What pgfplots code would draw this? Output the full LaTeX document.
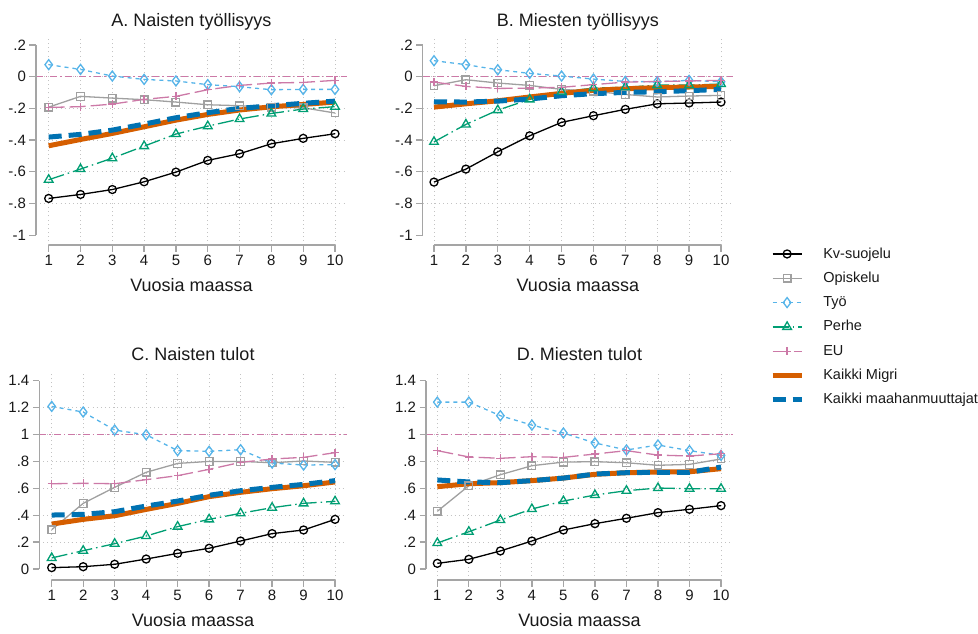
\documentclass[border=0pt]{standalone}
\usepackage{pgfplots}
\pgfplotsset{compat=1.18}
\usepackage{fontspec}
\setmainfont{Liberation Sans}
\definecolor{cKv}{RGB}{0,0,0}
\definecolor{cOp}{RGB}{160,160,160}
\definecolor{cTy}{RGB}{86,180,233}
\definecolor{cPe}{RGB}{0,158,115}
\definecolor{cEU}{RGB}{204,121,167}
\definecolor{cMi}{RGB}{213,94,0}
\definecolor{cAl}{RGB}{0,114,178}
\definecolor{axgray}{RGB}{165,165,165}
\definecolor{gridgray}{RGB}{195,195,195}
\definecolor{txt}{RGB}{25,25,25}
\pgfplotsset{
  sKv/.style={color=cKv, line width=1.3pt, mark=o, mark size=4pt, mark options={solid}},
  sOp/.style={color=cOp, line width=1.3pt, mark=square, mark size=3.8pt, mark options={solid}},
  sTy/.style={color=cTy, line width=1.3pt, dash pattern=on 4pt off 4pt, mark=diamond, mark size=5pt, mark options={solid}},
  sPe/.style={color=cPe, line width=1.3pt, dash pattern=on 16pt off 4pt on 1.5pt off 4pt, mark=triangle, mark size=5pt, mark options={solid}},
  sEU/.style={color=cEU, line width=1.3pt, dash pattern=on 16pt off 5pt, mark=+, mark size=4pt, mark options={solid}},
  sMi/.style={color=cMi, line width=5pt, no markers},
  sAl/.style={color=cAl, line width=5pt, dash pattern=on 13pt off 7pt, no markers},
  sRef/.style={color=cEU, line width=1.2pt, dash pattern=on 7pt off 3pt on 1.5pt off 3pt, no markers},
  base/.style={
    scale only axis, clip=false,
    axis lines*=left, axis line style={draw=none},
    tick align=outside, major tick length=6.5pt,
    tick style={axgray, line width=1.3pt},
    xtick={1,...,10},
    /pgf/number format/assume math mode=true,
    xmajorgrids,
    grid style={gridgray, line width=0.9pt, dash pattern=on 0.9pt off 3.2pt},
    tick label style={font=\fontsize{15}{15}\selectfont, text=txt},
    title style={font=\fontsize{18}{18}\selectfont, text=txt, anchor=base, at={(axis description cs:0.5,1)}, yshift=5pt},
    xlabel style={font=\fontsize{18}{18}\selectfont, text=txt, anchor=base, at={(axis description cs:0.5,0)}, yshift=-46.7pt},
    xlabel={Vuosia maassa},
    extra y tick labels={},
    extra y tick style={ymajorgrids=true, major tick length=0pt},
  },
  emp/.style={base, ymin=-1.062, ymax=0.2505,
    ytick={-1,-0.8,-0.6,-0.4,-0.2,0,0.2},
    yticklabels={-1,-.8,-.6,-.4,-.2,0,.2},
    extra y ticks={-0.8,-0.6,-0.4,-0.2,0}},
  inc/.style={base, ymin=-0.082, ymax=1.467,
    ytick={0,0.2,0.4,0.6,0.8,1,1.2,1.4},
    yticklabels={0,.2,.4,.6,.8,1,1.2,1.4},
    extra y ticks={0.2,0.4,0.6,0.8,1,1.2}},
}
\begin{document}
\begin{tikzpicture}
\useasboundingbox (0,0) rectangle (978pt,-633pt);
% ---------------- A
\begin{axis}[emp, at={(36pt,-245pt)}, anchor=south west, width=311pt, height=208pt,
  xmin=0.601, xmax=10.377, title={A. Naisten työllisyys}]
\addplot[sRef] coordinates {(0.601,0) (10.377,0)};
\addplot[sKv] coordinates {(1,-0.768)(2,-0.743)(3,-0.712)(4,-0.663)(5,-0.602)(6,-0.528)(7,-0.486)(8,-0.423)(9,-0.389)(10,-0.360)};
\addplot[sOp] coordinates {(1,-0.192)(2,-0.124)(3,-0.135)(4,-0.145)(5,-0.160)(6,-0.177)(7,-0.183)(8,-0.192)(9,-0.196)(10,-0.229)};
\addplot[sTy] coordinates {(1,0.076)(2,0.046)(3,0.004)(4,-0.017)(5,-0.027)(6,-0.050)(7,-0.063)(8,-0.082)(9,-0.080)(10,-0.080)};
\addplot[sPe] coordinates {(1,-0.650)(2,-0.583)(3,-0.514)(4,-0.438)(5,-0.362)(6,-0.312)(7,-0.267)(8,-0.232)(9,-0.204)(10,-0.189)};
\addplot[sEU] coordinates {(1,-0.194)(2,-0.189)(3,-0.173)(4,-0.143)(5,-0.124)(6,-0.082)(7,-0.055)(8,-0.040)(9,-0.036)(10,-0.023)};
\addplot[sMi] coordinates {(1,-0.436)(2,-0.396)(3,-0.358)(4,-0.316)(5,-0.274)(6,-0.238)(7,-0.210)(8,-0.190)(9,-0.175)(10,-0.160)};
\addplot[sAl] coordinates {(1,-0.381)(2,-0.364)(3,-0.337)(4,-0.299)(5,-0.259)(6,-0.227)(7,-0.200)(8,-0.183)(9,-0.168)(10,-0.154)};
\draw[axgray, line width=1.3pt] (axis cs:1,-1.062) -- (axis cs:10,-1.062);
\draw[axgray, line width=1.3pt] (axis cs:0.601,-1) -- (axis cs:0.601,0.2);
\end{axis}
% ---------------- B
\begin{axis}[emp, at={(422.7pt,-245pt)}, anchor=south west, width=310.3pt, height=208pt,
  xmin=0.646, xmax=10.376, title={B. Miesten työllisyys}]
\addplot[sRef] coordinates {(0.646,0) (10.376,0)};
\addplot[sKv] coordinates {(1,-0.665)(2,-0.583)(3,-0.474)(4,-0.373)(5,-0.288)(6,-0.246)(7,-0.206)(8,-0.171)(9,-0.166)(10,-0.160)};
\addplot[sOp] coordinates {(1,-0.057)(2,-0.019)(3,-0.040)(4,-0.055)(5,-0.080)(6,-0.092)(7,-0.112)(8,-0.128)(9,-0.122)(10,-0.118)};
\addplot[sTy] coordinates {(1,0.101)(2,0.076)(3,0.044)(4,0.021)(5,0.004)(6,-0.015)(7,-0.030)(8,-0.032)(9,-0.023)(10,-0.032)};
\addplot[sPe] coordinates {(1,-0.411)(2,-0.301)(3,-0.211)(4,-0.143)(5,-0.095)(6,-0.072)(7,-0.067)(8,-0.053)(9,-0.053)(10,-0.046)};
\addplot[sEU] coordinates {(1,-0.034)(2,-0.061)(3,-0.074)(4,-0.072)(5,-0.067)(6,-0.050)(7,-0.034)(8,-0.030)(9,-0.027)(10,-0.023)};
\addplot[sMi] coordinates {(1,-0.192)(2,-0.171)(3,-0.152)(4,-0.128)(5,-0.105)(6,-0.086)(7,-0.076)(8,-0.069)(9,-0.065)(10,-0.061)};
\addplot[sAl] coordinates {(1,-0.158)(2,-0.160)(3,-0.154)(4,-0.141)(5,-0.120)(6,-0.107)(7,-0.099)(8,-0.095)(9,-0.088)(10,-0.080)};
\draw[axgray, line width=1.3pt] (axis cs:1,-1.062) -- (axis cs:10,-1.062);
\draw[axgray, line width=1.3pt] (axis cs:0.646,-1) -- (axis cs:0.646,0.2);
\end{axis}
% ---------------- C
\begin{axis}[inc, at={(39.3pt,-580pt)}, anchor=south west, width=307.4pt, height=208.3pt,
  xmin=0.606, xmax=10.37, title={C. Naisten tulot}]
\addplot[sRef] coordinates {(0.606,1) (10.37,1)};
\addplot[sKv] coordinates {(1,0.010)(2,0.017)(3,0.035)(4,0.074)(5,0.116)(6,0.154)(7,0.208)(8,0.263)(9,0.290)(10,0.369)};
\addplot[sOp] coordinates {(1,0.292)(2,0.488)(3,0.607)(4,0.719)(5,0.785)(6,0.800)(7,0.800)(8,0.790)(9,0.803)(10,0.793)};
\addplot[sTy] coordinates {(1,1.209)(2,1.167)(3,1.033)(4,0.998)(5,0.880)(6,0.875)(7,0.887)(8,0.788)(9,0.773)(10,0.776)};
\addplot[sPe] coordinates {(1,0.082)(2,0.136)(3,0.188)(4,0.245)(5,0.315)(6,0.369)(7,0.414)(8,0.456)(9,0.488)(10,0.503)};
\addplot[sEU] coordinates {(1,0.634)(2,0.637)(3,0.634)(4,0.664)(5,0.694)(6,0.741)(7,0.793)(8,0.818)(9,0.830)(10,0.865)};
\addplot[sMi] coordinates {(1,0.334)(2,0.369)(3,0.396)(4,0.443)(5,0.488)(6,0.538)(7,0.570)(8,0.597)(9,0.619)(10,0.647)};
\addplot[sAl] coordinates {(1,0.401)(2,0.406)(3,0.426)(4,0.468)(5,0.505)(6,0.548)(7,0.582)(8,0.607)(9,0.629)(10,0.657)};
\draw[axgray, line width=1.3pt] (axis cs:1,-0.082) -- (axis cs:10,-0.082);
\draw[axgray, line width=1.3pt] (axis cs:0.606,0) -- (axis cs:0.606,1.4);
\end{axis}
% ---------------- D
\begin{axis}[inc, at={(426pt,-580pt)}, anchor=south west, width=307pt, height=208.3pt,
  xmin=0.641, xmax=10.38, title={D. Miesten tulot}]
\addplot[sRef] coordinates {(0.641,1) (10.38,1)};
\addplot[sKv] coordinates {(1,0.042)(2,0.072)(3,0.134)(4,0.208)(5,0.290)(6,0.337)(7,0.377)(8,0.419)(9,0.444)(10,0.471)};
\addplot[sOp] coordinates {(1,0.429)(2,0.619)(3,0.701)(4,0.768)(5,0.795)(6,0.798)(7,0.790)(8,0.771)(9,0.778)(10,0.818)};
\addplot[sTy] coordinates {(1,1.241)(2,1.241)(3,1.140)(4,1.070)(5,1.011)(6,0.937)(7,0.885)(8,0.922)(9,0.880)(10,0.845)};
\addplot[sPe] coordinates {(1,0.193)(2,0.277)(3,0.364)(4,0.446)(5,0.505)(6,0.550)(7,0.582)(8,0.602)(9,0.597)(10,0.597)};
\addplot[sEU] coordinates {(1,0.880)(2,0.833)(3,0.823)(4,0.835)(5,0.830)(6,0.855)(7,0.880)(8,0.847)(9,0.840)(10,0.857)};
\addplot[sMi] coordinates {(1,0.612)(2,0.634)(3,0.642)(4,0.657)(5,0.676)(6,0.704)(7,0.716)(8,0.721)(9,0.723)(10,0.746)};
\addplot[sAl] coordinates {(1,0.662)(2,0.647)(3,0.642)(4,0.657)(5,0.676)(6,0.706)(7,0.716)(8,0.719)(9,0.719)(10,0.758)};
\draw[axgray, line width=1.3pt] (axis cs:1,-0.082) -- (axis cs:10,-0.082);
\draw[axgray, line width=1.3pt] (axis cs:0.641,0) -- (axis cs:0.641,1.4);
\end{axis}
% ---------------- legend
\begin{axis}[hide axis, scale only axis, width=10pt, height=10pt, at={(770pt,-247.5pt)}, anchor=north west,
  xmin=0, xmax=1, ymin=0, ymax=1,
  legend style={at={(axis description cs:0,1)}, anchor=north west, draw=none, fill=none, inner sep=0pt, outer sep=0pt,
    font=\fontsize{14.5}{14.5}\selectfont, text=txt, row sep=10.8pt,
    nodes={inner sep=0pt, text height=10.5pt, text depth=3pt},
    /tikz/every odd column/.append style={column sep=19pt}},
  legend cell align=left,
  legend image code/.code={\draw[mark repeat=2, mark phase=2, #1] plot coordinates {(0pt,0.3pt) (14.6pt,0.3pt) (29.3pt,0.3pt)};}]
\addlegendimage{sKv}\addlegendentry{Kv-suojelu}
\addlegendimage{sOp}\addlegendentry{Opiskelu}
\addlegendimage{sTy}\addlegendentry{Työ}
\addlegendimage{sPe}\addlegendentry{Perhe}
\addlegendimage{sEU}\addlegendentry{EU}
\addlegendimage{sMi}\addlegendentry{Kaikki Migri}
\addlegendimage{sAl}\addlegendentry{Kaikki maahanmuuttajat}
\end{axis}
\end{tikzpicture}
\end{document}
